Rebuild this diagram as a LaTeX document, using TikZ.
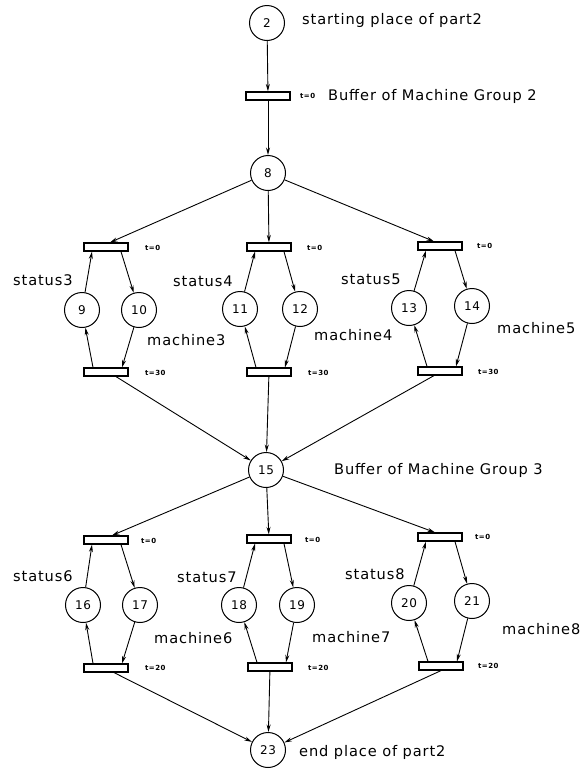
\documentclass[tikz,border=0pt]{standalone}
\usepackage{fontspec}
\setmainfont{DejaVu Sans}[LetterSpace=6]
\usetikzlibrary{arrows.meta,calc}
\begin{document}
\begin{tikzpicture}[x=1pt,y=-1pt,
  place/.style={circle,draw,line width=1pt,minimum size=35pt,inner sep=0pt,font=\fontsize{12}{13}\selectfont},
  trans/.style={rectangle,draw,line width=1.2pt,fill=white,minimum width=44pt,minimum height=8pt,inner sep=0pt},
  arc/.style={line width=0.9pt,-{Stealth[length=7.5pt,width=4pt]}},
  lbl/.style={anchor=west,inner sep=0pt,font=\fontsize{14.6}{16}\selectfont},
  tlbl/.style={anchor=west,inner sep=0pt,font=\fontsize{7}{8}\selectfont\bfseries},
]
\useasboundingbox (0,0) rectangle (588,772);

% places
\node[place] (p2)  at (267,23)  {2};
\node[place] (p8)  at (268,173) {8};
\node[place] (p9)  at (82,310)  {9};
\node[place] (p10) at (139,310) {10};
\node[place] (p11) at (240,309) {11};
\node[place] (p12) at (300,309) {12};
\node[place] (p13) at (409,308) {13};
\node[place] (p14) at (472,306) {14};
\node[place] (p15) at (266,470) {15};
\node[place] (p16) at (83,605)  {16};
\node[place] (p17) at (140,605) {17};
\node[place] (p18) at (239,605) {18};
\node[place] (p19) at (297,605) {19};
\node[place] (p20) at (409,603) {20};
\node[place] (p21) at (472,601) {21};
\node[place] (p23) at (268,750) {23};

% transitions
\node[trans] (tb2) at (268,96)  {};
\node[trans] (t3a) at (106,247) {};
\node[trans] (t4a) at (269,247) {};
\node[trans] (t5a) at (440,246) {};
\node[trans] (t3b) at (106,372) {};
\node[trans] (t4b) at (269,372) {};
\node[trans] (t5b) at (440,371) {};
\node[trans] (t6a) at (106,540) {};
\node[trans] (t7a) at (269,539) {};
\node[trans] (t8a) at (440,537) {};
\node[trans] (t6b) at (106,668) {};
\node[trans] (t7b) at (270,667) {};
\node[trans] (t8b) at (441,666) {};

% feed of part2 into machine group 2
\draw[arc] (p2) -- (tb2);
\draw[arc] (tb2) -- (p8);
\draw[arc] (p8) -- ($(t3a.north)+(4,0)$);
\draw[arc] (p8) -- (t4a);
\draw[arc] (p8) -- ($(t5a.north)+(-6,0)$);

% status / machine cycles
\foreach \ta/\tb/\pl/\pr in {t3a/t3b/p9/p10,t4a/t4b/p11/p12,t5a/t5b/p13/p14,
                             t6a/t6b/p16/p17,t7a/t7b/p18/p19,t8a/t8b/p20/p21}{
  \draw[arc] (\pl) -- ($(\ta.south)+(-14,0)$);
  \draw[arc] ($(\ta.south)+(15,0)$) -- (\pr);
  \draw[arc] (\pr) -- ($(\tb.north)+(16,0)$);
  \draw[arc] ($(\tb.north)+(-13,0)$) -- (\pl);
}

% buffer of machine group 3
\draw[arc] ($(t3b.south)+(10,0)$) -- (p15);
\draw[arc] (t4b) -- (p15);
\draw[arc] ($(t5b.south)+(-6,0)$) -- (p15);
\draw[arc] (p15) -- ($(t6a.north)+(6,0)$);
\draw[arc] (p15) -- (t7a);
\draw[arc] (p15) -- ($(t8a.north)+(-5,0)$);

% end place
\draw[arc] ($(t6b.south)+(8,0)$) -- (p23);
\draw[arc] (t7b) -- (p23);
\draw[arc] (t8b.south) -- (p23);

% descriptive labels
\node[lbl] (lstart) at (302,20)  {starting place of part2};
\node[lbl] (lbuf2)  at (328,96)  {Buffer of Machine Group 2};
\node[lbl] (lbuf3)  at (334,470) {Buffer of Machine Group 3};
\node[lbl] (lend)   at (299,752) {end place of part2};

\node[lbl] (s3) at (13,280)  {status3};
\node[lbl] (s4) at (173,281) {status4};
\node[lbl] (s5) at (341,279) {status5};
\node[lbl] (m3) at (147,340) {machine3};
\node[lbl] (m4) at (314,335) {machine4};
\node[lbl] (m5) at (497,328) {machine5};
\node[lbl] (s6) at (13,576)  {status6};
\node[lbl] (s7) at (177,577) {status7};
\node[lbl] (s8) at (345,574) {status8};
\node[lbl] (m6) at (154,638) {machine6};
\node[lbl] (m7) at (312,637) {machine7};
\node[lbl] (m8) at (502,629) {machine8};

% firing times
\node[tlbl] (ttb2) at (300,96)  {t=0};
\node[tlbl] (tt3a) at (145,248) {t=0};
\node[tlbl] (tt4a) at (307,248) {t=0};
\node[tlbl] (tt5a) at (477,246) {t=0};
\node[tlbl] (tt3b) at (145,373) {t=30};
\node[tlbl] (tt4b) at (308,373) {t=30};
\node[tlbl] (tt5b) at (478,372) {t=30};
\node[tlbl] (tt6a) at (141,541) {t=0};
\node[tlbl] (tt7a) at (305,540) {t=0};
\node[tlbl] (tt8a) at (475,537) {t=0};
\node[tlbl] (tt6b) at (145,668) {t=20};
\node[tlbl] (tt7b) at (308,668) {t=20};
\node[tlbl] (tt8b) at (478,666) {t=20};
\end{tikzpicture}
\end{document}
